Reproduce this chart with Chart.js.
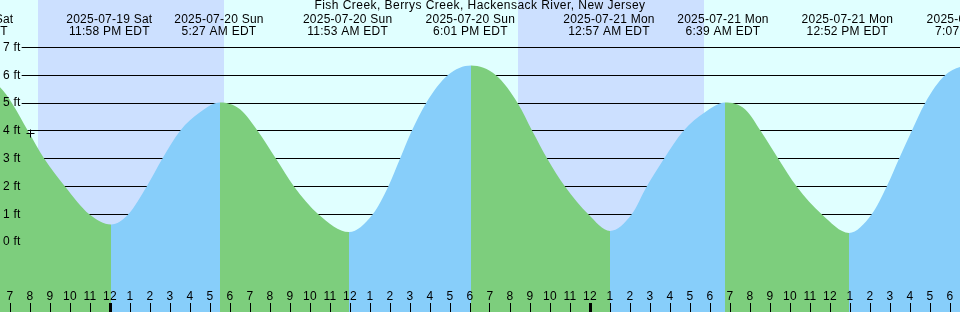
<!DOCTYPE html>
<html>
<head>
<meta charset="utf-8">
<script src="https://cdn.jsdelivr.net/npm/chart.js@4/dist/chart.umd.min.js"></script>
<style>
  html, body { margin: 0; padding: 0; background: #ffffff; }
  #wrap { width: 960px; height: 312px; }
</style>
</head>
<body>
<div id="wrap"><canvas id="c" width="960" height="312"></canvas></div>
<script>
// ---------- data (hours since 2025-07-20 00:00 EDT, heights in ft) ----------
const chartTitle = 'Fish Creek, Berrys Creek, Hackensack River, New Jersey';

const tideTimes = [
  -6.98, -5.5, -4.9, -4.1, -3.285, -2.25, -1.035, 0.05,
  0.915, 1.835, 2.615, 3.5, 4.5, 5.5,
  6.5, 7.385, 8.3, 9.2, 10.415, 11.95,
  13.135, 13.915, 14.5, 15.085, 15.8, 16.885, 18.05,
  19.3, 20.385, 21.115, 21.865, 22.75, 23.915, 25.0,
  26.085, 26.835, 27.7, 28.665, 29.75, 30.75,
  31.75, 32.535, 33.415, 34.335, 35.585, 36.95,
  38.085, 38.835, 39.45, 40.085, 40.75, 41.75, 43.12
];
const tideHeights = [
  6.2, 5.57, 5.0, 4.0, 3.0, 2.0, 1.0, 0.63,
  1.0, 2.0, 3.0, 4.0, 4.67, 5.02,
  4.78, 4.0, 3.0, 2.0, 1.0, 0.36,
  1.0, 2.0, 3.0, 4.0, 5.0, 6.0, 6.35,
  6.0, 5.0, 4.0, 3.0, 2.0, 1.0, 0.40,
  1.0, 2.0, 3.0, 4.0, 4.67, 5.02,
  4.78, 4.0, 3.0, 2.0, 1.0, 0.33,
  1.0, 2.0, 3.0, 4.0, 5.0, 6.0, 6.45
];

const eventTimes = [-6.983, -0.033, 5.45, 11.883, 18.017, 24.95, 30.65, 36.867, 43.117];
const eventDates = ['2025-07-19 Sat', '2025-07-19 Sat', '2025-07-20 Sun', '2025-07-20 Sun',
                    '2025-07-20 Sun', '2025-07-21 Mon', '2025-07-21 Mon', '2025-07-21 Mon', '2025-07-21 Mon'];
const eventClock = ['5:01 PM EDT', '11:58 PM EDT', '5:27 AM EDT', '11:53 AM EDT',
                    '6:01 PM EDT', '12:57 AM EDT', '6:39 AM EDT', '12:52 PM EDT', '7:07 PM EDT'];

const hourTicks = [-5, -4, -3, -2, -1, 0, 1, 2, 3, 4, 5, 6, 7, 8, 9, 10, 11, 12, 13, 14, 15, 16, 17, 18,
                   19, 20, 21, 22, 23, 24, 25, 26, 27, 28, 29, 30, 31, 32, 33, 34, 35, 36, 37, 38, 39, 40, 41, 42];
const hourLabels = ['7', '8', '9', '10', '11', '12', '1', '2', '3', '4', '5', '6', '7', '8', '9', '10', '11', '12',
                    '1', '2', '3', '4', '5', '6', '7', '8', '9', '10', '11', '12', '1', '2', '3', '4', '5', '6',
                    '7', '8', '9', '10', '11', '12', '1', '2', '3', '4', '5', '6'];

const heightTicks = [0, 1, 2, 3, 4, 5, 6, 7];

const nightStarts = [-3.6, 20.4];
const nightEnds = [5.7, 29.7];

const nowTime = [-3.975];
const nowHeight = [3.907];

// ---------- styling ----------
const FONT = "'Liberation Sans', Arial, sans-serif";
const FSIZE = 12;
const LH = 1;
const DAY = '#e0ffff';
const NIGHT = '#cce0ff';
const FALLING = '#7dce7d';
const RISING = '#87cefa';

const X_MIN = -5.5, X_MAX = 42.5;
const Y_MIN = -2.516, Y_MAX = 8.279;

function zeroPadding(s) {
  s.paddingLeft = 0; s.paddingRight = 0; s.paddingTop = 0; s.paddingBottom = 0;
}

const backgroundPlugin = {
  id: 'dayNight',
  beforeDraw(chart) {
    const ctx = chart.ctx;
    const xs = chart.scales.x;
    ctx.save();
    ctx.fillStyle = DAY;
    ctx.fillRect(0, 0, chart.width, chart.height);
    ctx.fillStyle = NIGHT;
    for (let i = 0; i < nightStarts.length; i++) {
      const a = xs.getPixelForValue(nightStarts[i]);
      const b = xs.getPixelForValue(nightEnds[i]);
      ctx.fillRect(a, 0, b - a, chart.height);
    }
    ctx.restore();
    // slightly wider text spacing for the title
    ctx.letterSpacing = '0.45px';
  },
  beforeDatasetsDraw(chart) {
    chart.ctx.letterSpacing = '0.25px';
  }
};

Chart.defaults.font.family = FONT;
Chart.defaults.font.size = FSIZE;
Chart.defaults.color = '#000';

const textFont = { family: FONT, size: FSIZE, lineHeight: LH };

new Chart(document.getElementById('c'), {
  type: 'line',
  data: {
    datasets: [
      {
        type: 'scatter',
        order: 0,
        data: nowTime.map((t, i) => ({ x: t, y: nowHeight[i] })),
        pointStyle: 'cross',
        pointRadius: 4,
        borderColor: '#000',
        backgroundColor: '#000',
        borderWidth: 1
      },
      {
        type: 'line',
        order: 1,
        data: tideTimes.map((t, i) => ({ x: t, y: tideHeights[i] })),
        fill: 'start',
        borderWidth: 0,
        borderColor: 'rgba(0,0,0,0)',
        pointRadius: 0,
        cubicInterpolationMode: 'monotone',
        backgroundColor: FALLING,
        segment: {
          backgroundColor: c => (c.p1.parsed.y > c.p0.parsed.y ? RISING : FALLING)
        }
      }
    ]
  },
  options: {
    responsive: false,
    maintainAspectRatio: false,
    animation: false,
    devicePixelRatio: 1,
    events: [],
    layout: { padding: 0, autoPadding: false },
    plugins: {
      legend: { display: false },
      tooltip: { enabled: false },
      title: {
        display: true,
        text: chartTitle,
        color: '#000',
        padding: 0,
        font: { family: FONT, size: FSIZE, weight: 'normal', lineHeight: LH }
      }
    },
    scales: {
      // grid lines + label backdrops (drawn beneath the water)
      y: {
        type: 'linear',
        axis: 'y',
        position: 'left',
        min: Y_MIN,
        max: Y_MAX,
        bounds: 'data',
        afterBuildTicks: s => { s.ticks = heightTicks.map(v => ({ value: v })); },
        afterFit: s => { s.width = 0; zeroPadding(s); },
        border: { display: false },
        grid: { color: '#000', lineWidth: 1, drawTicks: false, z: -1 },
        ticks: {
          mirror: true,
          padding: 3,
          z: 0,
          color: 'rgba(0,0,0,0)',
          font: textFont,
          callback: v => v + ' ft',
          showLabelBackdrop: true,
          backdropColor: DAY,
          backdropPadding: { left: 3, right: 2, top: 2, bottom: 2 }
        }
      },
      // height labels drawn above the water
      yLabels: {
        type: 'linear',
        axis: 'y',
        position: 'left',
        min: Y_MIN,
        max: Y_MAX,
        bounds: 'data',
        afterBuildTicks: s => { s.ticks = heightTicks.map(v => ({ value: v })); },
        afterFit: s => { s.width = 0; zeroPadding(s); },
        border: { display: false },
        grid: { display: false, drawTicks: false, drawOnChartArea: false },
        ticks: {
          mirror: true,
          padding: 3,
          z: 1,
          color: '#000',
          font: textFont,
          callback: v => v + ' ft'
        }
      },
      x: {
        type: 'linear',
        axis: 'x',
        position: { y: -2.195 },
        min: X_MIN,
        max: X_MAX,
        bounds: 'data',
        afterBuildTicks: s => { s.ticks = hourTicks.map(v => ({ value: v })); },
        afterFit: zeroPadding,
        border: { display: false },
        grid: {
          display: true,
          drawOnChartArea: false,
          drawTicks: true,
          tickLength: 9,
          color: '#000',
          tickColor: '#000',
          lineWidth: c => (c.tick && c.tick.value % 24 === 0 ? 3 : 1),
          tickWidth: c => (c.tick && c.tick.value % 24 === 0 ? 3 : 1),
          z: 1
        },
        ticks: { display: false, autoSkip: false, maxRotation: 0, minRotation: 0 }
      },
      xHours: {
        type: 'linear',
        axis: 'x',
        position: { y: -1.760 },
        min: X_MIN,
        max: X_MAX,
        bounds: 'data',
        afterBuildTicks: s => { s.ticks = hourTicks.map(v => ({ value: v })); },
        afterFit: zeroPadding,
        border: { display: false },
        grid: { display: false, drawTicks: false, drawOnChartArea: false },
        ticks: {
          z: 1,
          padding: 0,
          autoSkip: false,
          maxRotation: 0,
          minRotation: 0,
          color: '#000',
          font: textFont,
          callback: (v, i) => hourLabels[i]
        }
      },
      xEvents: {
        type: 'linear',
        axis: 'x',
        position: { y: 8.226 },
        min: X_MIN,
        max: X_MAX,
        bounds: 'data',
        afterBuildTicks: s => { s.ticks = eventTimes.map(v => ({ value: v })); },
        afterFit: zeroPadding,
        border: { display: false },
        grid: { display: false, drawTicks: false, drawOnChartArea: false },
        ticks: {
          z: 1,
          padding: 0,
          autoSkip: false,
          maxRotation: 0,
          minRotation: 0,
          color: '#000',
          font: textFont,
          callback: (v, i) => [eventDates[i], eventClock[i]]
        }
      }
    }
  },
  plugins: [backgroundPlugin]
});
</script>
</body>
</html>
